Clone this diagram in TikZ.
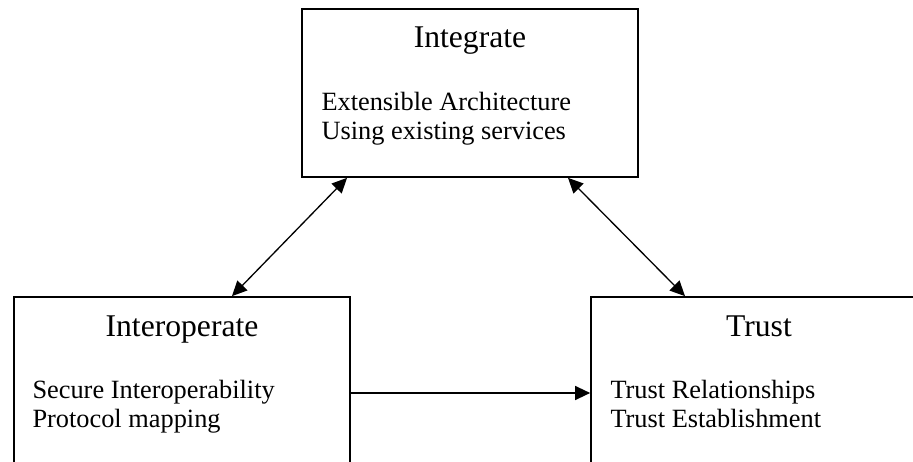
\documentclass[tikz,border=0pt]{standalone}
\usepackage{fontspec}
\setmainfont{Liberation Serif}
\usetikzlibrary{calc,arrows.meta}

\tikzset{
	block/.style={draw, line width=1pt, minimum width=6.72cm, minimum height=3.36cm, inner sep=0pt},
	heading/.style={anchor=base, inner sep=0pt, font=\fontsize{18}{21}\selectfont},
	items/.style={anchor=base west, align=left, inner sep=0pt, font=\fontsize{15}{16.2}\selectfont},
	tip/.tip={Triangle[length=3mm, width=2.8mm]},
	oneway/.style={line width=0.75pt, -tip},
	twoway/.style={line width=0.75pt, tip-tip},
}

\begin{document}
\begin{tikzpicture}[x=0.02cm, y=-0.02cm]
			%%%%% START %%%%%
			
			\useasboundingbox (0, 0) rectangle (913, 462);
			
			% base of a two line node sits on its last line
			\node[block] (integ) at (470, 93) {};
			\node[heading] (integ-title) at ($(integ.north)+(0, 39)$) {Integrate};
			\node[items] (integ-items) at ($(integ.north west)+(20, 131)$) {Extensible Architecture\\Using existing services};
			
			\node[block] (interop) at (182, 381) {};
			\node[heading] (interop-title) at ($(interop.north)+(0, 40)$) {Interoperate};
			\node[items] (interop-items) at ($(interop.north west)+(19, 131)$) {Secure Interoperability\\Protocol mapping};
			
			\node[block] (trust) at (759, 381) {};
			\node[heading] (trust-title) at ($(trust.north)+(0, 40)$) {Trust};
			\node[items] (trust-items) at ($(trust.north west)+(20, 131)$) {Trust Relationships\\Trust Establishment};
			
			\draw[twoway] ($(interop.north)+(50, 0)$) -- ($(integ.south)+(-123, 0)$);
			\draw[twoway] ($(integ.south)+(98, 0)$) -- ($(trust.north)+(-74, 0)$);
			\draw[oneway] ($(interop.east)+(0, 12)$) -- ($(trust.west)+(0, 12)$);
			
			%%%%% END %%%%%
\end{tikzpicture}
\end{document}
